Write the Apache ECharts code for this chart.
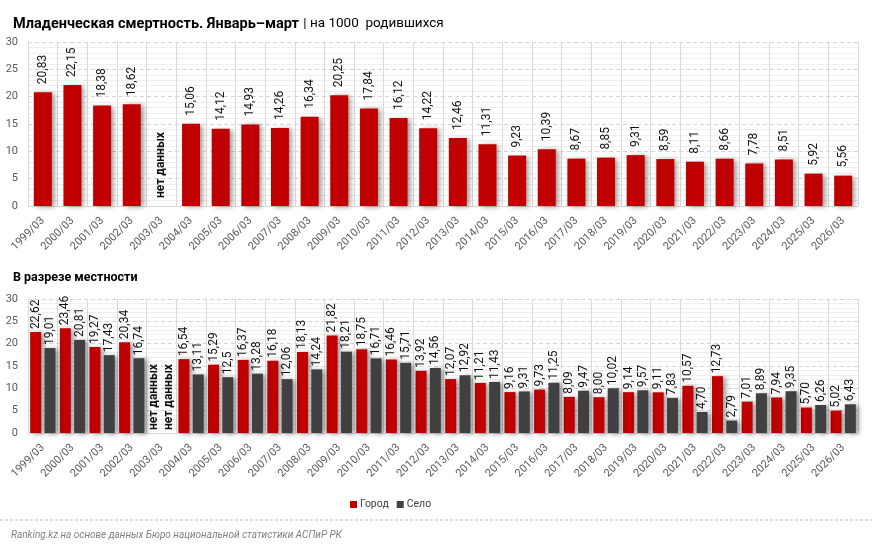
<!DOCTYPE html>
<html><head><meta charset="utf-8">
<script src="https://cdn.jsdelivr.net/npm/echarts@6/dist/echarts.min.js"></script>
<style>html,body{margin:0;padding:0;background:#fff}#c{width:872px;height:544px}</style>
</head><body><div id="c"></div>
<script>
const categories = ['1999/03','2000/03','2001/03','2002/03','2003/03','2004/03','2005/03','2006/03','2007/03','2008/03','2009/03','2010/03','2011/03','2012/03','2013/03','2014/03','2015/03','2016/03','2017/03','2018/03','2019/03','2020/03','2021/03','2022/03','2023/03','2024/03','2025/03','2026/03'];
const total = [20.83,22.15,18.38,18.62,null,15.06,14.12,14.93,14.26,16.34,20.25,17.84,16.12,14.22,12.46,11.31,9.23,10.39,8.67,8.85,9.31,8.59,8.11,8.66,7.78,8.51,5.92,5.56];
const city = [22.62,23.46,19.27,20.34,null,16.54,15.29,16.37,16.18,18.13,21.82,18.75,16.46,13.92,12.07,11.21,9.16,9.73,8.09,8.00,9.14,9.11,10.57,12.73,7.01,7.94,5.70,5.02];
const village = [19.01,20.81,17.43,16.74,null,13.11,12.5,13.28,12.06,14.24,18.21,16.71,15.71,14.56,12.92,11.43,9.31,11.25,9.47,10.02,9.57,7.83,4.70,2.79,8.89,9.35,6.26,6.43];
const yTicks = [0,5,10,15,20,25,30];
const noDataText = 'нет данных';
const labelOverrides = {village: {6: '12,5'}};

const FONT = 'Roboto, "Liberation Sans", sans-serif';
const RED = '#C00000', DARK = '#404040';

function fmt(v){ return v.toFixed(2).replace('.', ','); }
function buildData(arr, key){
  return arr.map((v,i)=>{
    if(v===null) return {value:0, label:{formatter:noDataText, fontWeight:'bold'}};
    const ov = labelOverrides[key] && labelOverrides[key][i];
    return {value:v, label:{formatter: ov || fmt(v)}};
  });
}
const shadow = {shadowColor:'rgba(0,0,0,0.4)', shadowBlur:5, shadowOffsetX:3, shadowOffsetY:1};
function xAxis(gi){
  return {type:'category', gridIndex:gi, data:categories,
    axisLine:{lineStyle:{color:'#d9d9d9'}}, axisTick:{show:false},
    splitLine:{show:true, lineStyle:{color:'#d9d9d9', width:1}},
    axisLabel:{rotate:45, color:'#595959', fontSize:11, fontFamily:FONT, margin:13, interval:0}};
}
function yAxis(gi){
  return {type:'value', gridIndex:gi, min:yTicks[0], max:yTicks[yTicks.length-1], interval:5,
    axisLine:{show:false}, axisTick:{show:false},
    axisLabel:{color:'#595959', fontSize:11, fontFamily:FONT, margin:10},
    splitLine:{lineStyle:{color:'#d4d4d4', type:[4,3]}},
    minorTick:{show:false, splitNumber:5},
    minorSplitLine:{show:true, lineStyle:{color:'#efefef'}}};
}
const labelBase = {show:true, position:'top', rotate:90, align:'left', verticalAlign:'middle',
  color:'#111', fontSize:12, fontFamily:FONT};

const chart = echarts.init(document.getElementById('c'), null, {renderer:'canvas'});
chart.setOption({
  animation:false,
  textStyle:{fontFamily:FONT},
  title:[
    {left:8, top:10, text:'{b|Младенческая смертность. Январь–март} {n|| на 1000  родившихся}',
      textStyle:{fontWeight:'normal', rich:{b:{fontWeight:'bold', fontSize:14.5, color:'#000', fontFamily:FONT}, n:{fontWeight:'normal', fontSize:13.5, color:'#000', fontFamily:FONT}}}},
    {left:8, top:266, text:'В разрезе местности', textStyle:{fontWeight:'bold', fontSize:12.5, color:'#000', fontFamily:FONT}},
    {left:6, top:525, text:'Ranking.kz на основе данных Бюро национальной статистики АСПиР РК',
      textStyle:{fontStyle:'italic', fontWeight:'normal', fontSize:10, color:'#7f7f7f', fontFamily:FONT}}
  ],
  legend:{data:['Город','Село'], left:345, top:494, icon:'rect', itemWidth:7, itemHeight:7, itemGap:8,
    textStyle:{color:'#404040', fontSize:10.5, fontFamily:FONT, padding:[0,0,0,-2]}},
  graphic:[{type:'line', shape:{x1:0,y1:520,x2:872,y2:520}, style:{stroke:'#bfbfbf', lineDash:[3,2], lineWidth:1}}],
  grid:[
    {left:28, right:14, top:42, height:164},
    {left:28, right:14, top:299, height:134}
  ],
  xAxis:[xAxis(0), xAxis(1)],
  yAxis:[yAxis(0), yAxis(1)],
  series:[
    {name:'Всего', type:'bar', xAxisIndex:0, yAxisIndex:0, data:buildData(total,'total'), barWidth:18,
      itemStyle:Object.assign({color:RED}, shadow), label:Object.assign({distance:8}, labelBase)},
    {name:'Город', type:'bar', xAxisIndex:1, yAxisIndex:1, data:buildData(city,'city'), barWidth:11, barGap:'30%',
      itemStyle:Object.assign({color:RED}, shadow), label:Object.assign({distance:3}, labelBase)},
    {name:'Село', type:'bar', xAxisIndex:1, yAxisIndex:1, data:buildData(village,'village'), barWidth:11, barGap:'30%',
      itemStyle:Object.assign({color:DARK}, shadow), label:Object.assign({distance:3}, labelBase)}
  ]
});
</script></body></html>
